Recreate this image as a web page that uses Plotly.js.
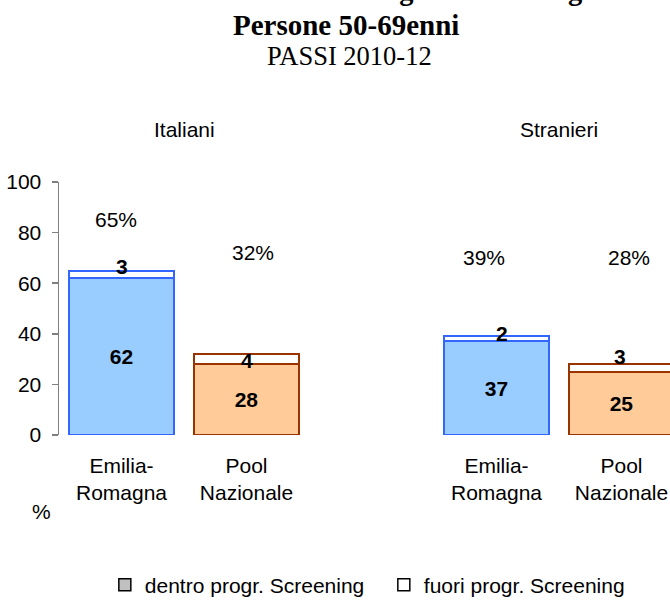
<!DOCTYPE html>
<html>
<head>
<meta charset="utf-8">
<script src="https://cdn.plot.ly/plotly-3.0.1.min.js"></script>
<style>
  html, body { margin: 0; padding: 0; background: #fff; }
</style>
</head>
<body>
<div id="chart" style="width:670px;height:601px;"></div>
<script>
// data
const categories = ['Emilia-<br>Romagna', 'Pool<br>Nazionale', 'Emilia-<br>Romagna', 'Pool<br>Nazionale'];
const groups = ['Italiani', 'Stranieri'];
const dentro = [62, 28, 37, 25];   // dentro progr. Screening
const fuori = [3, 4, 2, 3];        // fuori progr. Screening
const totals = ['65%', '32%', '39%', '28%'];
const seriesNames = ['dentro progr. Screening', 'fuori progr. Screening'];

// layout helpers (slot positions, a blank slot separates the two groups)
const slots = [0, 1, 3, 4];
const groupCenters = [0.5, 3.5];
const pctHeights = [85, 72, 70, 70];
const pctShift = [-6, 6, -13, 7];
const smallYShift = [4, -6, 3, 8];
const smallXShift = [0, 0, 5, -2];

const fillCol = ['#99CCFF', '#FFCC99', '#99CCFF', '#FFCC99'];
const edgeCol = ['#3366FF', '#993300', '#3366FF', '#993300'];

const SANS = 'Liberation Sans, Arial, sans-serif';
const SERIF = 'Liberation Serif, Times New Roman, serif';

const traces = [
  {
    type: 'bar', x: slots, y: dentro, width: 0.84,
    text: dentro.map(String), textposition: 'inside', insidetextanchor: 'middle',
    textfont: { family: SANS, size: 21, color: '#000', weight: 'bold' },
    marker: { color: fillCol, line: { color: edgeCol, width: 2 } },
    showlegend: false, hoverinfo: 'skip'
  },
  {
    type: 'bar', x: slots, y: fuori, width: 0.84,
    marker: { color: '#FFFFFF', line: { color: edgeCol, width: 2 } },
    showlegend: false, hoverinfo: 'skip'
  },
  // legend entries only
  {
    type: 'bar', x: [null], y: [null], name: seriesNames[0],
    marker: { color: '#C0C0C0', line: { color: '#000', width: 1.5 } }
  },
  {
    type: 'bar', x: [null], y: [null], name: seriesNames[1],
    marker: { color: '#FFFFFF', line: { color: '#000', width: 1.5 } }
  }
];

const annotations = [];
const centered = { showarrow: false, xanchor: 'center', yanchor: 'middle' };

// title lines (first one is cut by the top edge, as in the original)
annotations.push(
  Object.assign({ text: '<b>Esecuzione della ricerca del sangue occulto regolare</b>', xref: 'paper', yref: 'paper',
    x: 0.442, y: 1.755, font: { family: SERIF, size: 28.5, color: '#000' } }, centered),
  Object.assign({ text: '<b>Persone 50-69enni</b>', xref: 'paper', yref: 'paper',
    x: 0.47, y: 1.619, font: { family: SERIF, size: 29, color: '#000' } }, centered),
  Object.assign({ text: 'PASSI 2010-12', xref: 'paper', yref: 'paper',
    x: 0.476, y: 1.498, font: { family: SERIF, size: 26.5, color: '#000' } }, centered)
);

groups.forEach((g, i) => annotations.push(Object.assign({
  text: g, xref: 'x', yref: 'paper', x: groupCenters[i], y: 1.207,
  font: { family: SANS, size: 21, color: '#000' }
}, centered)));

totals.forEach((t, i) => annotations.push(Object.assign({
  text: t, xref: 'x', yref: 'y', x: slots[i], y: pctHeights[i], xshift: pctShift[i],
  font: { family: SANS, size: 21, color: '#000' }
}, centered)));

fuori.forEach((v, i) => annotations.push(Object.assign({
  text: '<b>' + v + '</b>', xref: 'x', yref: 'y', x: slots[i], y: dentro[i] + v,
  xshift: smallXShift[i], yshift: smallYShift[i],
  font: { family: SANS, size: 21, color: '#000' }
}, centered)));

annotations.push(Object.assign({
  text: '%', xref: 'paper', yref: 'paper', x: -0.028, y: -0.304,
  font: { family: SANS, size: 21, color: '#000' }
}, centered));

const layout = {
  width: 670, height: 601, autosize: false,
  margin: { l: 59, r: 0, t: 182, b: 166, pad: 0, autoexpand: false },
  paper_bgcolor: '#fff', plot_bgcolor: 'rgba(0,0,0,0)',
  barmode: 'stack',
  font: { family: SANS, size: 21, color: '#000' },
  xaxis: {
    range: [-0.5, 4.388], tickvals: slots, ticktext: categories,
    showline: false, showgrid: false, zeroline: false, ticks: '',
    ticklabelstandoff: 16, tickfont: { family: SANS, size: 21, color: '#000' }
  },
  yaxis: {
    range: [0, 100], dtick: 20, showline: true, linecolor: '#808080', linewidth: 1.5,
    ticks: 'outside', ticklen: 6, tickcolor: '#808080', tickwidth: 1.5,
    showgrid: false, zeroline: false, ticklabelstandoff: 6,
    tickfont: { family: SANS, size: 21, color: '#000' }
  },
  legend: {
    orientation: 'h', x: 0.075, xanchor: 'left', y: -0.593, yanchor: 'middle',
    traceorder: 'normal', entrywidth: 234, entrywidthmode: 'pixels',
    font: { family: SANS, size: 21, color: '#000' }, bgcolor: 'rgba(0,0,0,0)'
  },
  annotations: annotations,
  showlegend: true
};

Plotly.newPlot('chart', traces, layout, { displayModeBar: false, staticPlot: true });
</script>
</body>
</html>
